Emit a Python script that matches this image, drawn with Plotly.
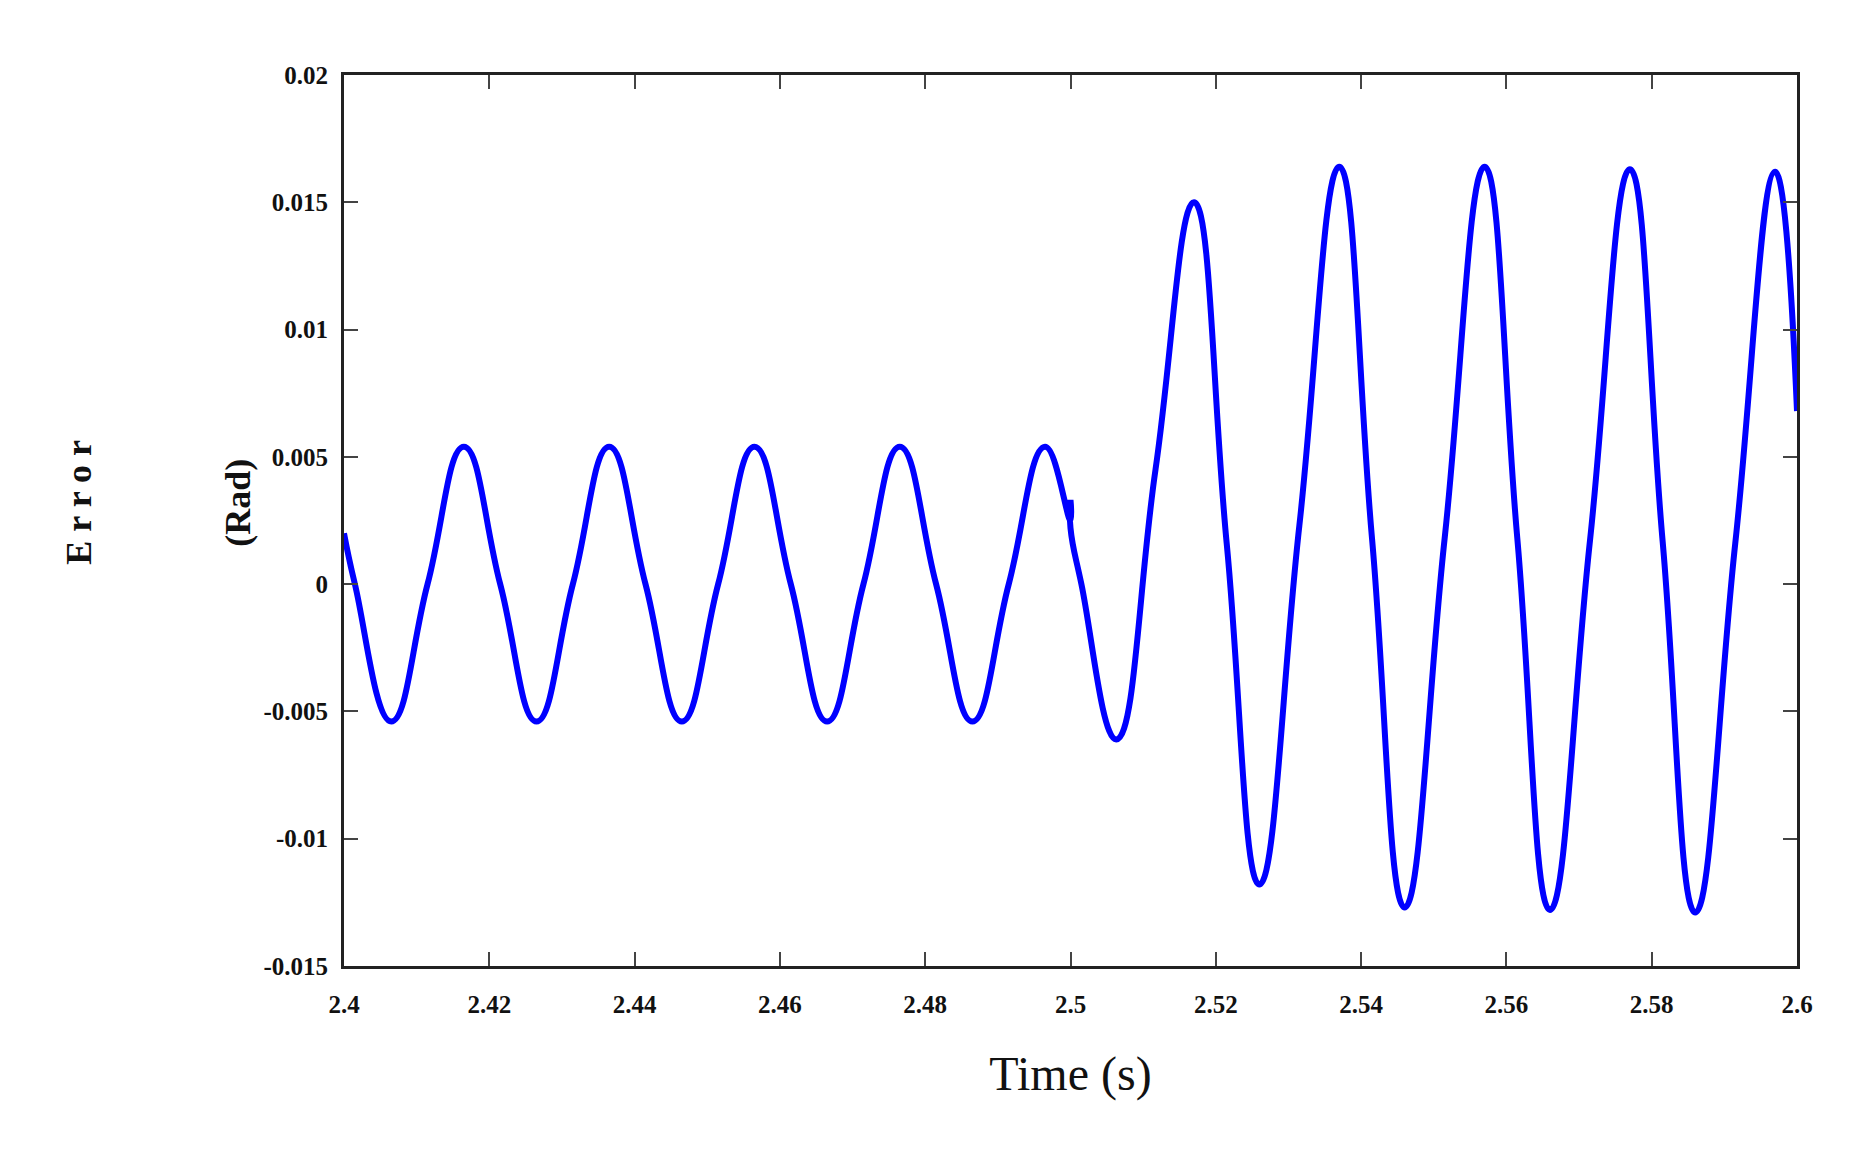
import plotly.graph_objects as go

t = [2.4, 2.4015, 2.4065, 2.4115, 2.4165, 2.4215, 2.4265, 2.4315, 2.4365, 2.4415, 2.4465,
     2.4515, 2.4565, 2.4615, 2.4665, 2.4715, 2.4765, 2.4815, 2.4865, 2.4915, 2.4965,
     2.5, 2.5, 2.5, 2.5015, 2.5063, 2.5117, 2.517, 2.5215, 2.526, 2.5315, 2.537, 2.5415, 2.546,
     2.5515, 2.557, 2.5615, 2.566, 2.5715, 2.577, 2.5815, 2.586, 2.5915, 2.597, 2.6]
err = [0.002, 0.0, -0.0054, 0.0, 0.0054, 0.0, -0.0054, 0.0, 0.0054, 0.0, -0.0054,
       0.0, 0.0054, 0.0, -0.0054, 0.0, 0.0054, 0.0, -0.0054, 0.0, 0.0054,
       0.0025, 0.0033, 0.0022, 0.0, -0.0061, 0.0045, 0.015, 0.0016, -0.0118, 0.0023, 0.0164, 0.0018, -0.0127,
       0.0018, 0.0164, 0.0018, -0.0128, 0.0017, 0.0163, 0.0017, -0.0129, 0.0016, 0.0162, 0.0068]

xt = [2.4, 2.42, 2.44, 2.46, 2.48, 2.5, 2.52, 2.54, 2.56, 2.58, 2.6]
yt = [-0.015, -0.01, -0.005, 0, 0.005, 0.01, 0.015, 0.02]

F = "Liberation Serif"
L, R, T, B = 336, 82, 67, 191
fig = go.Figure(go.Scatter(x=t, y=err, mode="lines",
                           line=dict(color="#0000ff", width=6, shape="spline", smoothing=1.3)))
ax = dict(showgrid=False, zeroline=False, ticks="inside", ticklen=14, tickwidth=2,
          showline=True, linewidth=3, linecolor="#222", mirror="ticks",
          tickfont=dict(family=F, size=25, color="#111"))
fig.update_layout(
    width=1871, height=1149, plot_bgcolor="white", paper_bgcolor="white",
    margin=dict(l=L, r=R, t=T, b=B), showlegend=False,
    xaxis=dict(ax, range=[2.4, 2.6], tickvals=xt, ticktext=[f"<b>{v}</b>" for v in xt],
               ticklabelstandoff=14,
               title=dict(text="Time (s)", font=dict(family=F, size=48, color="#111"), standoff=40)),
    yaxis=dict(ax, range=[-0.015, 0.02], tickvals=yt, ticktext=[f"<b>{v}</b>" for v in yt],
               ticklabelstandoff=8),
    annotations=[
        dict(text="<b>E r r o r</b>", x=(49 - L) / (1871 - L - R), y=0.52, xref="paper", yref="paper",
             showarrow=False, textangle=-90, font=dict(family=F, size=36, color="#111")),
        dict(text="<b>(Rad)</b>", x=(208 - L) / (1871 - L - R), y=0.52, xref="paper", yref="paper",
             showarrow=False, textangle=-90, font=dict(family=F, size=36, color="#111")),
    ])
fig.write_html("out.html")
